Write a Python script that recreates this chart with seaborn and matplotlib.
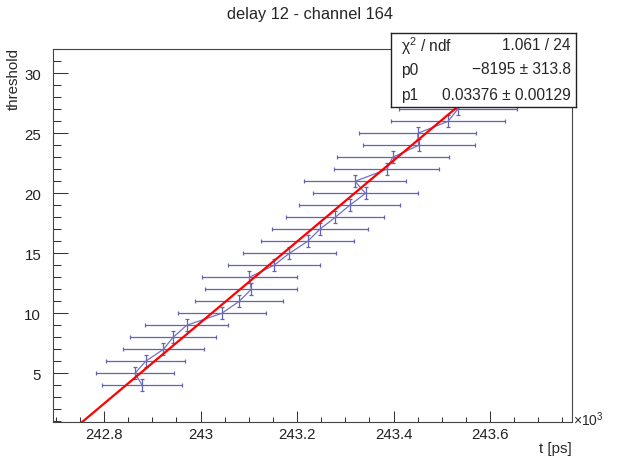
import numpy as np
import pandas as pd
import matplotlib
matplotlib.use("Agg")
import matplotlib.pyplot as plt
from matplotlib.ticker import MultipleLocator, FuncFormatter
import seaborn as sns

# ---- data (x in units of 10^3 ps) ----
threshold = [4, 5, 6, 7, 8, 9, 10, 11, 12, 13, 14, 15, 16, 17, 18, 19, 20,
             21, 22, 23, 24, 25, 26, 27, 28, 29]
t_kps = [242.879, 242.864, 242.886, 242.923, 242.943, 242.971, 243.044,
         243.080, 243.105, 243.101, 243.152, 243.184, 243.222, 243.247,
         243.279, 243.309, 243.342, 243.320, 243.386, 243.398, 243.452,
         243.450, 243.513, 243.533, 243.560, 243.590]
t_err = [0.083, 0.081, 0.082, 0.084, 0.089, 0.086, 0.091, 0.091, 0.095,
         0.098, 0.095, 0.097, 0.097, 0.100, 0.101, 0.105, 0.109, 0.105,
         0.109, 0.116, 0.116, 0.122, 0.119, 0.122, 0.123, 0.125]
thr_err = [0.5] * len(threshold)

fit_p0 = -8194.45
fit_p1 = 0.03376

stat_labels = ["χ$^2$ / ndf", "p0", "p1"]
stat_values = ["1.061 / 24", "\u22128195 ± 313.8", "0.03376 ± 0.00129"]

title = "delay 12 - channel 164"
xlabel = "t [ps]"
ylabel = "threshold"

x_lim = (242.694, 243.77)
y_lim = (0.94, 32.03)

df = pd.DataFrame({"t": t_kps, "thr": threshold, "terr": t_err, "yerr": thr_err})
fit_x = np.linspace(x_lim[0], x_lim[1], 200)
fit_df = pd.DataFrame({"t": fit_x, "thr": fit_p0 + fit_p1 * fit_x * 1000.0})

# ---- style ----
sns.set_theme(style="ticks")
plt.rcParams["font.family"] = ["Liberation Sans", "DejaVu Sans"]
plt.rcParams["mathtext.fontset"] = "custom"
plt.rcParams["mathtext.rm"] = "Liberation Sans"
plt.rcParams["mathtext.it"] = "Liberation Sans:italic"
plt.rcParams["mathtext.bf"] = "Liberation Sans:bold"

W, H = 619, 460
fig = plt.figure(figsize=(W / 100, H / 100), dpi=100)
ax = fig.add_axes([53 / W, 1 - 423 / H, (572 - 53) / W, (423 - 50) / H])

blue = "#6262bc"
ax.errorbar(df["t"], df["thr"], xerr=df["terr"], yerr=df["yerr"], fmt="none",
            ecolor=blue, elinewidth=0.9, capsize=1.6, capthick=0.9, zorder=2)
sns.lineplot(data=df, x="t", y="thr", sort=False, estimator=None, ax=ax,
             color="#7272c0", linewidth=0.9, zorder=3)
sns.lineplot(data=fit_df, x="t", y="thr", sort=False, estimator=None, ax=ax,
             color="#ff0000", linewidth=1.6, zorder=4)

ax.set_xlim(*x_lim)
ax.set_ylim(*y_lim)
ax.set_xlabel("")
ax.set_ylabel("")

ax.xaxis.set_major_locator(MultipleLocator(0.2))
ax.xaxis.set_minor_locator(MultipleLocator(0.05))
ax.xaxis.set_major_formatter(FuncFormatter(lambda v, p: f"{v:.1f}".rstrip("0").rstrip(".")))
ax.yaxis.set_major_locator(MultipleLocator(5))
ax.yaxis.set_minor_locator(MultipleLocator(1))

tc = "#333333"
ax.tick_params(axis="x", which="major", direction="in", length=7.7, width=0.75,
               pad=3.5, labelsize=10.8, color=tc, labelcolor="#222222")
ax.tick_params(axis="x", which="minor", direction="in", length=3.6, width=0.75,
               color=tc)
ax.tick_params(axis="y", which="major", direction="in", length=10.8, width=0.75,
               pad=8.5, labelsize=10.8, color=tc, labelcolor="#222222")
ax.tick_params(axis="y", which="minor", direction="in", length=5.4, width=0.75,
               color=tc)
for s in ax.spines.values():
    s.set_visible(True)
    s.set_color("#444444")
    s.set_linewidth(0.8)

# titles
fig.text(310.5 / W, 1 - 14 / H, title, ha="center", va="center", fontsize=11.8)
fig.text(14 / W, 1 - 48 / H, ylabel, rotation=90, ha="center", va="top", fontsize=10.8)
fig.text(572 / W, 1 - 449 / H, xlabel, ha="right", va="center", fontsize=10.8)
fig.text(573 / W, 1 - 420 / H, r"$\times$10$^3$", ha="left", va="center", fontsize=10)

# stats box
bx0, bx1, by0, by1 = 391, 576, 34, 108
sax = fig.add_axes([bx0 / W, 1 - by1 / H, (bx1 - bx0) / W, (by1 - by0) / H], zorder=10)
sax.set_facecolor("white")
sax.set_xticks([])
sax.set_yticks([])
for s in sax.spines.values():
    s.set_color("#222222")
    s.set_linewidth(1.0)
row_y = [46, 70, 95.5]
for lab, val, ry in zip(stat_labels, stat_values, row_y):
    yy = (by1 - ry) / (by1 - by0)
    sax.text((401 - bx0) / (bx1 - bx0), yy, lab, ha="left", va="center",
             fontsize=11.2, transform=sax.transAxes)
    sax.text((571 - bx0) / (bx1 - bx0), yy, val, ha="right", va="center",
             fontsize=11.2, transform=sax.transAxes)

fig.savefig("out.png", dpi=100)
